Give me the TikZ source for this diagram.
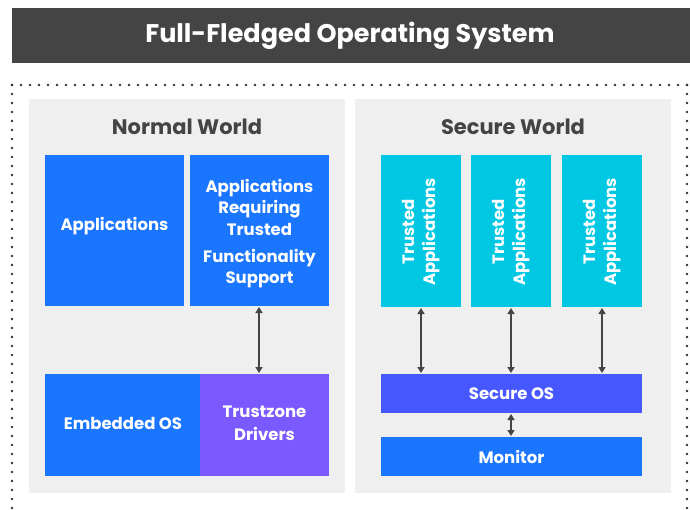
\documentclass[tikz,border=0pt]{standalone}
\usepackage{fontspec}
\setmainfont{Poppins}
\usetikzlibrary{arrows.meta}
\definecolor{titlegray}{HTML}{444444}
\definecolor{panelgray}{HTML}{EFEFEF}
\definecolor{headgray}{HTML}{444444}
\definecolor{appblue}{HTML}{1A75FF}
\definecolor{tzpurple}{HTML}{7A5AFF}
\definecolor{tacyan}{HTML}{00C8E3}
\definecolor{sosblue}{HTML}{4757FF}
\definecolor{arrowgray}{HTML}{444444}
\definecolor{dotgray}{HTML}{333333}
\tikzset{
  box/.style={anchor=north west, inner sep=0pt, outer sep=0pt, text=white,
    font=\bfseries\fontsize{16.5}{21.5}\selectfont, align=center},
  panel/.style={anchor=north west, inner sep=0pt, outer sep=0pt, fill=panelgray},
  heading/.style={text=headgray, font=\bfseries\fontsize{21}{25}\selectfont},
  link/.style={arrowgray, line width=2pt, {Triangle[width=7pt,length=6pt]}-{Triangle[width=7pt,length=6pt]}, shorten >=1pt, shorten <=1pt}
}
\begin{document}
\begin{tikzpicture}[x=1pt,y=-1pt]
\useasboundingbox (0,0) rectangle (690,509);
% title
\node[anchor=north west, inner sep=0pt, fill=titlegray, minimum width=678pt, minimum height=55pt] (title) at (12,8) {};
\node[text=white, font=\bfseries\fontsize{25.5}{30}\selectfont] (titletext) at (350,35.5) {Full-Fledged Operating System};
% dotted border
\draw[dotgray, line width=2.6pt, line cap=round, dash pattern=on 0pt off 9pt] (12,85) -- (687,85);
\draw[dotgray, line width=2.6pt, line cap=round, dash pattern=on 0pt off 9pt] (12,85) -- (12,515);
\draw[dotgray, line width=2.6pt, line cap=round, dash pattern=on 0pt off 9pt] (687,85) -- (687,515);
% panels
\node[panel, minimum width=316pt, minimum height=394pt] (normal) at (29,99) {};
\node[panel, minimum width=316pt, minimum height=394pt] (secure) at (355,99) {};
\node[heading] (normalhead) at (187,127) {Normal World};
\node[heading] (securehead) at (513,127) {Secure World};
% normal world boxes
\node[box, fill=appblue, minimum width=139pt, minimum height=151pt] (apps) at (45,155) {};
\node[box, anchor=center] (appstext) at (114.5,226) {Applications};
\node[box, fill=appblue, minimum width=139pt, minimum height=151pt] (req) at (190,155) {};
\node[box, anchor=center] (reqtext1) at (259.5,207) {Applications\\Requiring\\Trusted};
\node[box, anchor=center] (reqtext2) at (259.5,268.5) {Functionality\\Support};
\node[box, fill=appblue, minimum width=156pt, minimum height=102pt] (emb) at (45,374) {};
\node[box, anchor=center] (embtext) at (123,423.5) {Embedded OS};
\node[box, fill=tzpurple, minimum width=129pt, minimum height=102pt] (tz) at (200,374) {};
\node[box, anchor=center] (tztext) at (264.5,423.5) {Trustzone\\[1.5pt]Drivers};
\draw[link] (req.south -| 259,0) -- (tz.north -| 259,0);
% secure world boxes
\foreach \i/\x in {1/381,2/471,3/562}{
  \node[box, fill=tacyan, minimum width=80pt, minimum height=152pt] (ta\i) at (\x,155) {};
  \node[box, anchor=center, rotate=90] (tatext\i) at ([yshift=-1pt]ta\i.center) {Trusted\\Applications};
}
\node[box, fill=sosblue, minimum width=261pt, minimum height=39pt] (sos) at (381,374) {};
\node[box, anchor=center] (sostext) at (sos.center) {Secure OS};
\node[box, fill=appblue, minimum width=261pt, minimum height=39pt] (mon) at (381,437) {};
\node[box, anchor=center] (montext) at (mon.center) {Monitor};
\draw[link] (ta1.south) -- (sos.north -| ta1.south);
\draw[link] (ta2.south) -- (sos.north -| ta2.south);
\draw[link] (ta3.south -| 602,0) -- (sos.north -| 602,0);
\draw[link] (sos.south -| 511,0) -- (mon.north -| 511,0);
\end{tikzpicture}
\end{document}
